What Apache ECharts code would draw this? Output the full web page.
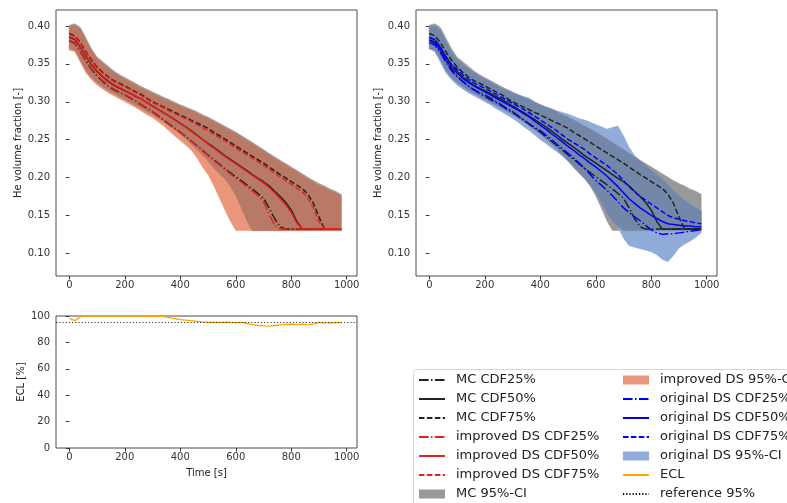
<!DOCTYPE html>
<html>
<head>
<meta charset="utf-8">
<script src="https://cdn.jsdelivr.net/npm/echarts@6/dist/echarts.min.js"></script>
<style>
  html, body { margin: 0; padding: 0; background: #fff; }
  #chart { width: 787px; height: 503px; }
</style>
</head>
<body>
<div id="chart"></div>
<script>
// time [s]
const t = [0,20,40,60,80,100,120,140,160,180,200,220,240,260,280,300,320,340,360,380,
           400,420,440,460,480,500,520,540,560,580,600,620,640,660,680,700,720,740,760,780,
           800,820,840,860,880,900,920,940,960,980];
const xTicks = [0,200,400,600,800,1000];
const heTicks = [0.10,0.15,0.20,0.25,0.30,0.35,0.40];

// MC quantiles
const mc25 = [0.3806,0.377,0.366,0.354,0.343,0.334,0.327,0.321,0.316,0.3125,
  0.309,0.305,0.3005,0.296,0.2915,0.287,0.2815,0.276,0.2705,0.265,
  0.260,0.254,0.248,0.242,0.236,0.2298,0.224,0.218,0.212,0.2065,
  0.201,0.196,0.1905,0.185,0.179,0.1726,0.160,0.146,0.135,0.132,
  0.132,0.132,0.132,0.132,0.132,0.132,0.132,0.132,0.132,0.132];
const mc50 = [0.385,0.382,0.372,0.360,0.349,0.340,0.333,0.327,0.322,0.318,
  0.3146,0.311,0.307,0.3035,0.299,0.2944,0.290,0.2855,0.281,0.2765,
  0.2716,0.267,0.2615,0.256,0.2505,0.245,0.240,0.2345,0.229,0.224,
  0.219,0.214,0.209,0.204,0.199,0.1945,0.189,0.182,0.175,0.167,
  0.157,0.142,0.132,0.132,0.132,0.132,0.132,0.132,0.132,0.132];
const mc75 = [0.390,0.387,0.378,0.366,0.355,0.346,0.339,0.333,0.328,0.3245,
  0.321,0.317,0.313,0.3095,0.3045,0.300,0.2965,0.293,0.2895,0.286,
  0.2826,0.279,0.2755,0.272,0.2685,0.265,0.260,0.2555,0.251,0.2465,
  0.2417,0.237,0.2325,0.228,0.2235,0.219,0.214,0.209,0.204,0.1995,
  0.1945,0.190,0.1855,0.178,0.166,0.148,0.132,0.132,0.132,0.132];
const mcLo = [0.370,0.368,0.355,0.341,0.332,0.325,0.320,0.315,0.311,0.307,
  0.303,0.299,0.295,0.291,0.287,0.283,0.278,0.2735,0.268,0.2625,
  0.257,0.2505,0.244,0.237,0.2295,0.222,0.213,0.2055,0.198,0.189,
  0.176,0.160,0.143,0.130,0.130,0.130,0.130,0.130,0.130,0.130,
  0.130,0.130,0.130,0.130,0.130,0.130,0.130,0.130,0.130,0.130];
const mcUp = [0.401,0.403,0.398,0.384,0.370,0.359,0.353,0.347,0.341,0.336,
  0.332,0.328,0.324,0.320,0.3165,0.313,0.3095,0.306,0.303,0.2995,
  0.296,0.293,0.290,0.287,0.283,0.280,0.276,0.272,0.268,0.264,
  0.260,0.2555,0.251,0.2465,0.2415,0.237,0.232,0.2275,0.223,0.2185,
  0.214,0.2095,0.205,0.2005,0.196,0.192,0.189,0.185,0.182,0.178];

// improved DS
const ids25 = [0.381,0.378,0.367,0.355,0.344,0.335,0.328,0.322,0.317,0.313,
  0.3095,0.3055,0.301,0.2965,0.292,0.2875,0.282,0.2765,0.271,0.2655,
  0.260,0.254,0.248,0.242,0.2355,0.229,0.223,0.217,0.211,0.205,
  0.199,0.194,0.188,0.182,0.176,0.168,0.152,0.137,0.132,0.132,
  0.132,0.132,0.132,0.132,0.132,0.132,0.132,0.132,0.132,0.132];
const ids50 = [0.386,0.383,0.373,0.361,0.350,0.341,0.334,0.328,0.323,0.319,
  0.315,0.3115,0.3075,0.3035,0.299,0.2945,0.290,0.2855,0.281,0.276,
  0.271,0.2665,0.261,0.2555,0.250,0.2445,0.239,0.2335,0.228,0.223,
  0.218,0.213,0.208,0.203,0.198,0.193,0.187,0.180,0.172,0.164,
  0.154,0.140,0.132,0.132,0.132,0.132,0.132,0.132,0.132,0.132];
const ids75 = [0.389,0.386,0.377,0.365,0.354,0.345,0.338,0.332,0.327,0.3235,
  0.320,0.316,0.312,0.308,0.3035,0.299,0.2955,0.292,0.288,0.2845,
  0.281,0.2775,0.274,0.270,0.266,0.262,0.2575,0.253,0.2485,0.244,
  0.239,0.2345,0.230,0.2255,0.221,0.216,0.211,0.206,0.201,0.196,
  0.191,0.186,0.181,0.173,0.160,0.142,0.132,0.132,0.132,0.132];
const isLo = [0.368,0.366,0.352,0.338,0.329,0.322,0.317,0.312,0.308,0.304,
  0.300,0.296,0.292,0.2875,0.283,0.279,0.2735,0.268,0.2615,0.255,
  0.249,0.2425,0.236,0.226,0.214,0.204,0.190,0.174,0.158,0.143,
  0.130,0.130,0.130,0.130,0.130,0.130,0.130,0.130,0.130,0.130,
  0.130,0.130,0.130,0.130,0.130,0.130,0.130,0.130,0.130,0.130];
const isUp = [0.400,0.401,0.396,0.382,0.368,0.357,0.351,0.345,0.339,0.334,
  0.330,0.326,0.322,0.318,0.3145,0.311,0.3075,0.304,0.301,0.2975,
  0.294,0.291,0.288,0.285,0.281,0.278,0.274,0.270,0.266,0.262,
  0.258,0.2535,0.249,0.2445,0.2395,0.235,0.230,0.2255,0.221,0.2165,
  0.212,0.2075,0.203,0.1985,0.194,0.190,0.187,0.183,0.180,0.176];

// original DS
const od25 = [0.378,0.375,0.365,0.352,0.341,0.333,0.327,0.321,0.316,0.311,
  0.307,0.303,0.299,0.295,0.290,0.286,0.281,0.276,0.271,0.266,
  0.262,0.256,0.250,0.244,0.238,0.232,0.226,0.219,0.212,0.204,
  0.196,0.190,0.183,0.176,0.168,0.160,0.154,0.148,0.143,0.137,
  0.131,0.127,0.125,0.126,0.126,0.127,0.128,0.129,0.130,0.131];
const od50 = [0.382,0.379,0.369,0.356,0.345,0.338,0.331,0.326,0.321,0.317,
  0.313,0.309,0.305,0.301,0.297,0.293,0.289,0.2845,0.280,0.2745,
  0.269,0.264,0.258,0.2525,0.247,0.241,0.236,0.230,0.225,0.219,
  0.214,0.208,0.202,0.195,0.188,0.180,0.172,0.166,0.160,0.155,
  0.150,0.146,0.142,0.139,0.138,0.137,0.136,0.136,0.135,0.135];
const od75 = [0.385,0.382,0.372,0.359,0.349,0.343,0.336,0.330,0.325,0.321,
  0.318,0.314,0.310,0.306,0.302,0.298,0.294,0.290,0.2855,0.281,
  0.276,0.271,0.2665,0.2615,0.256,0.2505,0.246,0.2415,0.237,0.231,
  0.226,0.221,0.216,0.210,0.204,0.196,0.188,0.181,0.175,0.170,
  0.165,0.160,0.155,0.150,0.147,0.145,0.143,0.142,0.140,0.139];
const odLo = [0.370,0.366,0.352,0.338,0.329,0.322,0.317,0.312,0.308,0.304,
  0.300,0.296,0.291,0.287,0.2825,0.278,0.273,0.267,0.262,0.256,
  0.250,0.245,0.239,0.234,0.228,0.222,0.215,0.207,0.199,0.190,
  0.180,0.167,0.153,0.143,0.135,0.120,0.110,0.108,0.106,0.104,
  0.102,0.098,0.092,0.089,0.097,0.107,0.112,0.116,0.121,0.127];
const odUp = [0.399,0.400,0.394,0.380,0.366,0.356,0.350,0.344,0.339,0.334,
  0.330,0.326,0.322,0.318,0.315,0.312,0.309,0.307,0.305,0.300,
  0.296,0.293,0.291,0.288,0.286,0.284,0.281,0.278,0.276,0.273,
  0.270,0.267,0.264,0.266,0.268,0.255,0.240,0.229,0.222,0.216,
  0.210,0.204,0.198,0.190,0.183,0.176,0.170,0.165,0.160,0.156];

// ECL [%]
const ecl = [98.2,96.5,99.5,100,100,100,100,100,100,100,
  100,99.9,99.9,99.8,99.8,99.9,99.8,99.5,98.8,98.0,
  97.2,96.8,96.5,96.0,95.5,95.2,95.3,95.2,95.4,95.1,
  95.0,95.2,94.5,93.5,92.8,92.5,92.4,92.8,93.2,93.6,
  93.9,93.5,93.8,93.2,94.0,95.2,94.8,94.6,95.0,95.0];
const eclRef = 95;

const FONT = 'DejaVu Sans';
const DASH = [5.5, 2.4];
const DASHDOT = [9.6, 2.4, 1.5, 2.4];
const DOT = [1.2, 2];
const GRAY = '#999999', SALMON = '#e9967a', BLUEFILL = '#91acd8';

const pts = v => t.map((x, i) => [x, v[i]]);

// filled band between lo and hi, drawn as one polygon through the axis scales
function band(name, lo, hi, color, g) {
  return { name: name, type: 'custom', xAxisIndex: g, yAxisIndex: g, color: color,
    data: [[t[0], lo[0]]], silent: true, clip: true, z: 2,
    renderItem: function (params, api) {
      const top = t.map((x, i) => api.coord([x, hi[i]]));
      const bot = t.map((x, i) => api.coord([x, lo[i]])).reverse();
      return { type: 'polygon', shape: { points: top.concat(bot) },
        style: { fill: color, stroke: color, lineWidth: 0.5 } };
    } };
}
function overlap(name, loA, hiA, loB, hiB, color, g) {
  const lo = loA.map((v, i) => Math.max(v, loB[i]));
  const hi = hiA.map((v, i) => Math.max(Math.min(v, hiB[i]), lo[i]));
  return band(name, lo, hi, color, g);
}
function line(name, vals, color, type, g, w) {
  return { name: name, type: 'line', xAxisIndex: g, yAxisIndex: g, data: pts(vals),
    symbol: 'none', color: color, z: 3,
    lineStyle: { color: color, width: w || 1.5, type: type } };
}

function xAx(g, name) {
  return { type: 'value', gridIndex: g, min: -48, max: 1037,
    name: name || '', nameLocation: 'middle', nameGap: 20,
    nameTextStyle: { fontFamily: FONT, fontSize: 10, color: '#222' },
    axisLine: { show: false }, splitLine: { show: false },
    axisTick: { customValues: xTicks, length: 3.5, lineStyle: { color: '#333' } },
    axisLabel: { customValues: xTicks, margin: 4, fontFamily: FONT, fontSize: 10, color: '#333',
      formatter: v => String(v) } };
}
function yHe(g) {
  return { type: 'value', gridIndex: g, min: 0.0701, max: 0.4211,
    name: 'He volume fraction [-]', nameLocation: 'middle', nameGap: 31,
    nameTextStyle: { fontFamily: FONT, fontSize: 10, color: '#222' },
    axisLine: { show: false }, splitLine: { show: false },
    axisTick: { customValues: heTicks, length: 3.5, lineStyle: { color: '#333' } },
    axisLabel: { customValues: heTicks, margin: 6, fontFamily: FONT, fontSize: 10, color: '#333',
      formatter: v => v.toFixed(2) } };
}

const gridStyle = { show: true, borderColor: '#4d4d4d', borderWidth: 1, backgroundColor: '#fff' };

const series = [].concat(
  // left panel: MC vs improved DS
  [band('MC 95%-CI', mcLo, mcUp, GRAY, 0),
   band('improved DS 95%-CI', isLo, isUp, SALMON, 0),
   overlap('ovL', mcLo, mcUp, isLo, isUp, '#b87a66', 0),
   line('MC CDF25%', mc25, '#222', DASHDOT, 0),
   line('MC CDF50%', mc50, '#222', 'solid', 0),
   line('MC CDF75%', mc75, '#222', DASH, 0),
   line('improved DS CDF25%', ids25, '#e3221e', DASHDOT, 0),
   line('improved DS CDF50%', ids50, '#e3221e', 'solid', 0),
   line('improved DS CDF75%', ids75, '#e3221e', DASH, 0)],
  // right panel: MC vs original DS
  [band('MC 95%-CI', mcLo, mcUp, GRAY, 1),
   band('original DS 95%-CI', odLo, odUp, BLUEFILL, 1),
   overlap('ovR', mcLo, mcUp, odLo, odUp, '#7388a8', 1),
   line('MC CDF25%', mc25, '#222', DASHDOT, 1),
   line('MC CDF50%', mc50, '#222', 'solid', 1),
   line('MC CDF75%', mc75, '#222', DASH, 1),
   line('original DS CDF25%', od25, '#0000ff', DASHDOT, 1),
   line('original DS CDF50%', od50, '#0000ff', 'solid', 1),
   line('original DS CDF75%', od75, '#0000ff', DASH, 1)],
  // bottom panel: ECL
  [{ name: 'reference 95%', type: 'line', xAxisIndex: 2, yAxisIndex: 2, data: [],
     symbol: 'none', color: '#000', lineStyle: { color: '#000', width: 0.8, type: DOT },
     markLine: { silent: true, symbol: 'none', label: { show: false },
       lineStyle: { color: '#000', width: 0.8, type: DOT }, data: [{ yAxis: eclRef }] } },
   line('ECL', ecl, '#ffa500', 'solid', 2, 1.3)]
);

const legendText = { fontFamily: FONT, fontSize: 13, color: '#222', lineHeight: 14, padding: [0, 0, 0, 6] };
const legendBase = { orient: 'vertical', top: 368, height: 160, itemWidth: 26, itemHeight: 9, itemGap: 5,
  textStyle: legendText, selectedMode: false, itemStyle: { opacity: 0 } };
const rectItem = (name, color) => ({ name: name, icon: 'rect', itemStyle: { color: color, opacity: 1 } });

const chart = echarts.init(document.getElementById('chart'), null, { renderer: 'canvas' });
chart.setOption({
  animation: false,
  backgroundColor: '#fff',
  graphic: [{ type: 'rect', z: 0, silent: true,
    shape: { x: 413.5, y: 369.5, width: 420, height: 200, r: 3 },
    style: { fill: 'rgba(255,255,255,0.8)', stroke: '#d5d5d5', lineWidth: 1 } }],
  grid: [
    Object.assign({ left: 56, top: 10, width: 301, height: 266 }, gridStyle),
    Object.assign({ left: 416, top: 10, width: 301, height: 266 }, gridStyle),
    Object.assign({ left: 56, top: 316, width: 301, height: 132 }, gridStyle)
  ],
  xAxis: [xAx(0), xAx(1), xAx(2, 'Time [s]')],
  yAxis: [yHe(0), yHe(1),
    { type: 'value', gridIndex: 2, min: 0, max: 100, interval: 20,
      name: 'ECL [%]', nameLocation: 'middle', nameGap: 30,
      nameTextStyle: { fontFamily: FONT, fontSize: 10, color: '#222' },
      axisLine: { show: false }, splitLine: { show: false },
      axisTick: { length: 3.5, lineStyle: { color: '#333' } },
      axisLabel: { margin: 6, fontFamily: FONT, fontSize: 10, color: '#333' } }],
  legend: [
    Object.assign({ left: 413, data: [
      'MC CDF25%', 'MC CDF50%', 'MC CDF75%',
      'improved DS CDF25%', 'improved DS CDF50%', 'improved DS CDF75%',
      rectItem('MC 95%-CI', GRAY)] }, legendBase),
    Object.assign({ left: 617, data: [
      rectItem('improved DS 95%-CI', SALMON),
      'original DS CDF25%', 'original DS CDF50%', 'original DS CDF75%',
      rectItem('original DS 95%-CI', BLUEFILL),
      'ECL', 'reference 95%'] }, legendBase)
  ],
  series: series
});
</script>
</body>
</html>
